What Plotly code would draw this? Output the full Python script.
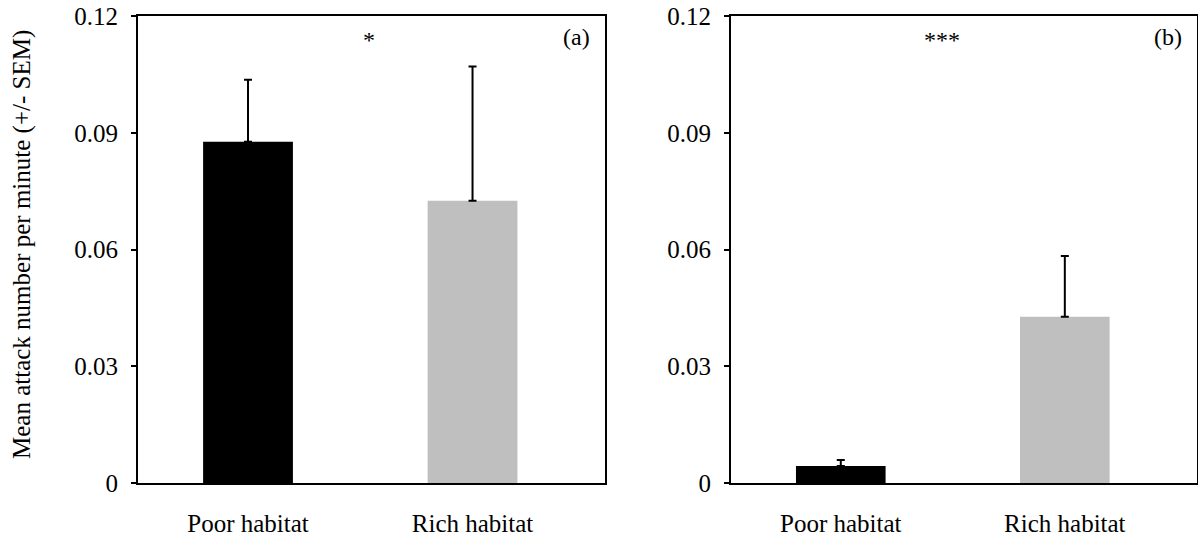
import plotly.graph_objects as go

# Data: mean attack number per minute with SEM, two habitats, two panels
categories = ["Poor habitat", "Rich habitat"]
means_a = [0.0877, 0.0725]
sem_a = [0.0159, 0.0345]
means_b = [0.0044, 0.0427]
sem_b = [0.0015, 0.0156]
bar_colors = ["#000000", "#bfbfbf"]
y_ticks = [0, 0.03, 0.06, 0.09, 0.12]
y_ticktext = ["0", "0.03", "0.06", "0.09", "0.12"]

W, H = 1198, 537
FONT = "Liberation Serif"

fig = go.Figure()

positions = [0, 1]
for means, sems, xa, ya in [(means_a, sem_a, "x", "y"), (means_b, sem_b, "x2", "y2")]:
    fig.add_trace(go.Bar(
        x=positions, y=means, width=0.40,
        marker=dict(color=bar_colors, line=dict(width=0)),
        error_y=dict(type="data", array=sems, arrayminus=[0] * len(sems),
                     symmetric=False, color="#000000", thickness=2, width=4),
        xaxis=xa, yaxis=ya, showlegend=False,
    ))

def px_x(p):
    return p / W

def px_y(p):
    return 1 - p / H

xaxis_common = dict(
    range=[-0.49, 1.59], tickvals=positions, ticktext=categories,
    showline=True, linecolor="#000000", linewidth=2, mirror=True,
    ticks="", showgrid=False, zeroline=False, fixedrange=True,
    tickfont=dict(family=FONT, size=25, color="#000000"),
    ticklabelstandoff=17, automargin=False,
)
yaxis_common = dict(
    range=[0, 0.12], tickvals=y_ticks, ticktext=y_ticktext,
    showline=True, linecolor="#000000", linewidth=2, mirror=True,
    ticks="outside", ticklen=5, tickwidth=2, tickcolor="#000000",
    showgrid=False, zeroline=False, fixedrange=True,
    tickfont=dict(family=FONT, size=25, color="#000000"),
    ticklabelstandoff=8, automargin=False,
)

y_dom = [px_y(483), px_y(16)]
fig.update_layout(
    width=W, height=H,
    margin=dict(l=0, r=0, t=0, b=0),
    paper_bgcolor="#ffffff", plot_bgcolor="#ffffff",
    xaxis=dict(domain=[px_x(138), px_x(605)], anchor="y", **xaxis_common),
    yaxis=dict(domain=y_dom, anchor="x", **yaxis_common),
    xaxis2=dict(domain=[px_x(731), px_x(1197)], anchor="y2", **xaxis_common),
    yaxis2=dict(domain=y_dom, anchor="x2", **yaxis_common),
    font=dict(family=FONT, color="#000000"),
)

def label(text, x, y, size, angle=0):
    return dict(text=text, x=px_x(x), y=px_y(y), xref="paper", yref="paper",
                xanchor="center", yanchor="middle", textangle=angle,
                showarrow=False, font=dict(family=FONT, size=size, color="#000000"))

annotations = [
    label("Mean attack number per minute (+/- SEM)", 22, 245, 25, -90),
    label("(a)", 576, 37, 24),
    label("(b)", 1168, 37, 24),
    label("*", 369, 40, 24),
    label("***", 942, 40, 24),
]
fig.update_layout(annotations=annotations)

fig.write_html("out.html")
